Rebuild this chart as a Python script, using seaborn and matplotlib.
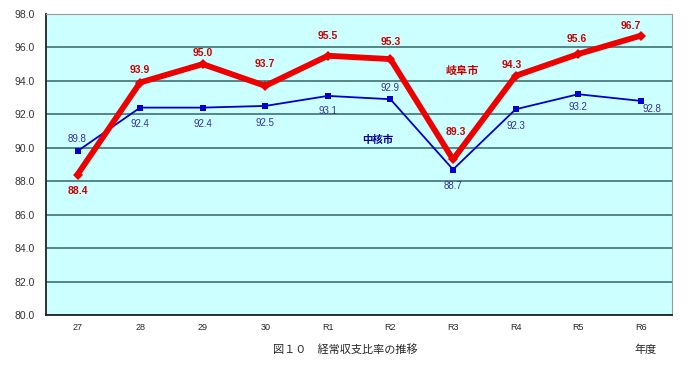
import pandas as pd
import seaborn as sns
import matplotlib.pyplot as plt

# data
years = ["27", "28", "29", "30", "R1", "R2", "R3", "R4", "R5", "R6"]
gifu = [88.4, 93.9, 95.0, 93.7, 95.5, 95.3, 89.3, 94.3, 95.6, 96.7]
chukaku = [89.8, 92.4, 92.4, 92.5, 93.1, 92.9, 88.7, 92.3, 93.2, 92.8]

df = pd.DataFrame({"year": years, "gifu": gifu, "chukaku": chukaku})

sns.set_style("white")
plt.rcParams['font.family'] = ['Noto Sans CJK JP', 'DejaVu Sans']

fig = plt.figure(figsize=(6.9, 3.76), dpi=100)
ax = fig.add_axes([0.067, 0.162, 0.907, 0.801])
ax.set_facecolor("#ccffff")

sns.lineplot(x="year", y="chukaku", data=df, ax=ax, color="#0000cc", lw=1.3,
             marker="s", markersize=4.5, markeredgewidth=0, sort=False, zorder=3)
sns.lineplot(x="year", y="gifu", data=df, ax=ax, color="#ee0000", lw=4.2,
             marker="D", markersize=5, markeredgewidth=0, sort=False, zorder=4)

ax.set_ylim(80, 98)
ax.set_xlim(-0.5, len(years) - 0.5)
ax.set_yticks([80 + 2 * i for i in range(10)])
ax.set_yticklabels([f"{80 + 2 * i:.1f}" for i in range(10)], fontsize=7.5,
                   family=['Liberation Sans'], color="#333333")
ax.set_xticks(range(len(years)))
ax.set_xticklabels(years, fontsize=6.5, family=['Liberation Sans'])
ax.set_xticks([i + 0.5 for i in range(len(years) - 1)], minor=True)
ax.tick_params(axis="x", which="major", length=0, pad=6)
ax.tick_params(axis="x", which="minor", direction="in", length=3, color="#333333")
ax.tick_params(axis="y", length=0, pad=8)
ax.grid(axis="y", color="#336666", lw=1.1)
ax.set_axisbelow(True)
for side in ["top", "right"]:
    ax.spines[side].set_color("#999999")
for side in ["left", "bottom"]:
    ax.spines[side].set_color("#222222")
    ax.spines[side].set_linewidth(1.3)
ax.set_xlabel("")
ax.set_ylabel("")

# value labels
red_off = [(0, -12), (0, 9), (0, 8), (0, 16), (0, 14), (0, 12), (2, 20), (-3, 8), (-1, 11), (-7, 7)]
blue_off = [(0, 9), (0, -12), (0, -12), (0, -12), (0, -11), (0, 8), (0, -12), (0, -12), (0, -9), (8, -6)]
for i, v in enumerate(gifu):
    ax.annotate(f"{v:.1f}", (i, v), xytext=red_off[i], textcoords="offset points",
                ha="center", va="center", fontsize=7.5, fontweight="bold",
                color="#cc0000", family=['Liberation Sans'])
for i, v in enumerate(chukaku):
    ax.annotate(f"{v:.1f}", (i, v), xytext=blue_off[i], textcoords="offset points",
                ha="center", va="center", fontsize=7, color="#333399",
                family=['Liberation Sans'])

ax.text(6.15, 94.65, "岐阜市", color="#cc0000", fontsize=8, fontweight="bold",
        style="italic", ha="center", va="center")
ax.text(4.8, 90.45, "中核市", color="#000099", fontsize=7.5, fontweight="bold",
        ha="center", va="center")

fig.text(0.50, 0.069, "図１０　経常収支比率の推移", fontsize=8, ha="center", va="center")
fig.text(0.935, 0.069, "年度", fontsize=8, ha="center", va="center")

plt.savefig("out.png", dpi=100)
